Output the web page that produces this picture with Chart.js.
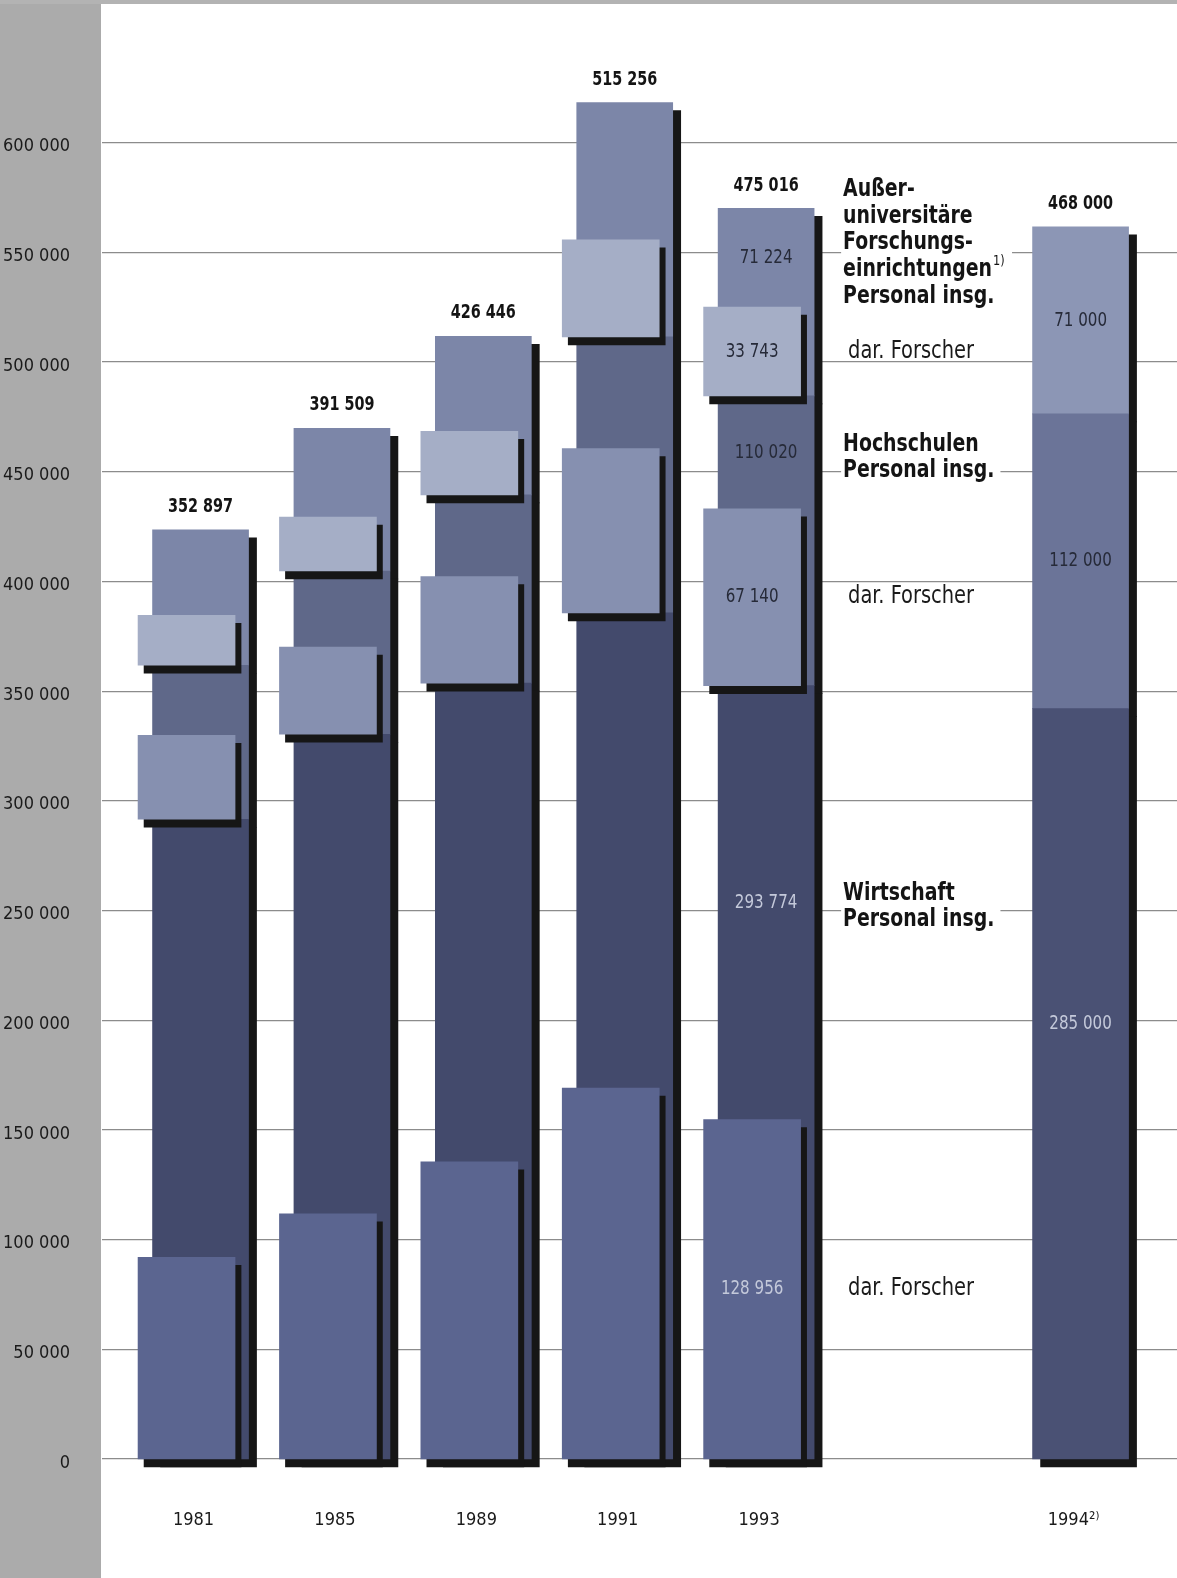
<!DOCTYPE html>
<html lang="de">
<head>
<meta charset="utf-8">
<title>FuE-Personal nach Sektoren</title>
<script src="https://cdn.jsdelivr.net/npm/chart.js@4.4.1/dist/chart.umd.min.js"></script>
<style>
  html, body { margin: 0; padding: 0; background: #fff; }
  canvas { display: block; }
</style>
</head>
<body>
<canvas id="personalChart" width="1177" height="1578"></canvas>
<script>
// R&D personnel by sector, totals and "dar. Forscher" (researchers among them)
const years = ['1981', '1985', '1989', '1991', '1993', '1994²⁾'];
const totals = [352897, 391509, 426446, 515256, 475016, 468000];
const wirtschaft = [243000, 275300, 294700, 321400, 293774, 285000];
const hochschulen = [58500, 62000, 71500, 104800, 110020, 112000];
const ausseruni = [51397, 54209, 60246, 89056, 71224, 71000];
const wirtschaftForscher = [76600, 93100, 112900, 140900, 128956, null];
const hochschulenForscher = [31900, 33100, 40500, 62400, 67140, null];
const ausseruniForscher = [19000, 20500, 24100, 36900, 33743, null];
const yTicks = [0, 50000, 100000, 150000, 200000, 250000, 300000,
                350000, 400000, 450000, 500000, 550000, 600000];
// years whose segment values are printed inside the bars
const valueYears = ['1993', '1994²⁾'];

// layout
const slots = [0, 1, 2, 3, 4, 6.224];
const X_MIN = -0.697, X_MAX = 6.906, BOX_SHIFT = 0.099;
const AXIS_MAX = 660000;
const BAR_MAX = 550000;
const FONT = "'Liberation Sans Narrow', 'DejaVu Sans Condensed', 'Liberation Sans', sans-serif";

const fmt = n => String(n).replace(/\B(?=(\d{3})+(?!\d))/g, ' ');

// text squeezed horizontally to get the narrow face of the print
function drawText(ctx, str, x, y, o) {
  const sx = o.sx || 1;
  ctx.save();
  ctx.font = `${o.weight || 'normal'} ${o.size}px ${FONT}`;
  ctx.fillStyle = o.color || '#1a1a1a';
  ctx.textAlign = o.align || 'left';
  ctx.textBaseline = 'middle';
  ctx.translate(x, y);
  ctx.scale(sx, 1);
  ctx.fillText(str, 0, 0);
  const w = ctx.measureText(str).width * sx;
  ctx.restore();
  return w;
}

const series = [wirtschaft, hochschulen, ausseruni];
const forscher = [wirtschaftForscher, hochschulenForscher, ausseruniForscher];
const valueColors = ['#c4c9da', '#262a38', '#262a38'];
const legendBlocks = [
  { lines: ['Wirtschaft', 'Personal insg.'], dy: 4 },
  { lines: ['Hochschulen', 'Personal insg.'], dy: 5 },
  { lines: ['Außer-', 'universitäre', 'Forschungs-', 'einrichtungen', 'Personal insg.'], sup: 3, dy: -15 }
];
const BOLD = { size: 25, weight: 'bold', sx: 0.84, color: '#141414' };

const decorations = {
  id: 'decorations',
  beforeDraw(chart) {
    const { ctx, width, height } = chart;
    ctx.save();
    ctx.fillStyle = '#fff';
    ctx.fillRect(0, 0, width, height);
    ctx.fillStyle = '#ababab';
    ctx.fillRect(0, 0, chart.chartArea.left - 1, height);
    ctx.fillStyle = '#b3b3b3';
    ctx.fillRect(0, 0, width, 4);
    ctx.restore();
  },
  beforeDatasetDraw(chart, args) {
    const s = chart.data.datasets[args.index].shadow;
    if (!s) return;
    const ctx = chart.ctx;
    ctx.save();
    ctx.shadowColor = '#161616';
    ctx.shadowBlur = 0;
    ctx.shadowOffsetX = s[0];
    ctx.shadowOffsetY = s[1];
  },
  afterDatasetDraw(chart, args) {
    if (chart.data.datasets[args.index].shadow) chart.ctx.restore();
  },
  afterDatasetsDraw(chart) {
    const ctx = chart.ctx;
    const main = [0, 1, 2].map(i => chart.getDatasetMeta(i).data);
    const boxes = [3, 4, 5].map(i => chart.getDatasetMeta(i).data);

    // totals above the bars
    main[2].forEach((bar, i) => {
      drawText(ctx, fmt(totals[i]), bar.x, bar.y - 23, { size: 20, weight: 'bold', align: 'center', sx: 0.8, color: '#141414' });
    });

    // values inside the segments and researcher boxes
    const labelY = [[], [], []];
    years.forEach((yr, i) => {
      for (let s = 0; s < 3; s++) {
        const bar = main[s][i];
        const box = boxes[s][i];
        const bottom = box ? box.y : bar.base;
        const frac = (s === 0 && !box) ? 0.42 : 0.5;
        labelY[s][i] = bar.y + (bottom - bar.y) * frac;
        if (!valueYears.includes(yr)) continue;
        drawText(ctx, fmt(series[s][i]), bar.x, labelY[s][i], { size: 20, align: 'center', sx: 0.84, color: valueColors[s] });
        if (box) {
          drawText(ctx, fmt(forscher[s][i]), box.x, (box.y + box.base) / 2, { size: 20, align: 'center', sx: 0.84, color: valueColors[s] });
        }
      }
    });

    // sector legend next to the 1993 column
    const ref = 4;
    const xText = main[0][ref].x + main[0][ref].width / 2 + 29;
    const lh = 26.7;
    legendBlocks.forEach((blk, s) => {
      const n = blk.lines.length;
      const y0 = labelY[s][ref] + blk.dy - (n - 1) / 2 * lh;
      ctx.save();
      ctx.font = `bold 25px ${FONT}`;
      let maxW = 0;
      blk.lines.forEach((l, k) => {
        maxW = Math.max(maxW, ctx.measureText(l).width * BOLD.sx + (k === blk.sup ? 14 : 0));
      });
      ctx.fillStyle = '#fff';
      ctx.fillRect(xText - 2, y0 - 14, maxW + 8, (n - 1) * lh + 28);
      ctx.restore();
      blk.lines.forEach((l, k) => {
        const w = drawText(ctx, l, xText, y0 + k * lh, BOLD);
        if (k === blk.sup) drawText(ctx, '1)', xText + w + 1, y0 + k * lh - 8, { size: 14, sx: 0.9, color: '#141414' });
      });
      const box = boxes[s][ref];
      drawText(ctx, 'dar. Forscher', xText + 5, (box.y + box.base) / 2, { size: 24, sx: 0.9, color: '#1a1a1a' });
    });
  }
};

const pts = (arr) => arr.map((v, i) => ({ x: slots[i], y: v }));
const boxPts = (arr, bases) => arr
  .map((v, i) => v === null ? null : { x: slots[i], y: [bases[i], bases[i] + v] })
  .filter(p => p !== null);
const zeros = years.map(() => 0);
const hsBase = wirtschaft;
const auBase = wirtschaft.map((v, i) => v + hochschulen[i]);

const shade = (c, last) => years.map((_, i) => i === years.length - 1 ? last : c);

// bars are not grouped: each one sits exactly on its x value
const mainBar = { stack: 'main', grouped: false, clip: false, xAxisID: 'x', yAxisID: 'yb', barThickness: 96, shadow: [8, 8] };
const boxBar = { grouped: false, clip: false, xAxisID: 'xb', yAxisID: 'yf', barThickness: 97, order: 0, shadow: [6, 8] };

new Chart(document.getElementById('personalChart'), {
  type: 'bar',
  data: {
    datasets: [
      { ...mainBar, label: 'Wirtschaft', data: pts(wirtschaft), backgroundColor: shade('#434a6c', '#4a5174'), order: 1 },
      { ...mainBar, label: 'Hochschulen', data: pts(hochschulen), backgroundColor: shade('#5f6889', '#6b7498'), order: 2 },
      { ...mainBar, label: 'Außeruniversitäre Forschungseinrichtungen', data: pts(ausseruni), backgroundColor: shade('#7c86a8', '#8c96b5'), order: 3 },
      { ...boxBar, label: 'Wirtschaft dar. Forscher', data: boxPts(wirtschaftForscher, zeros), backgroundColor: '#5b6590' },
      { ...boxBar, label: 'Hochschulen dar. Forscher', data: boxPts(hochschulenForscher, hsBase), backgroundColor: '#8690b0' },
      { ...boxBar, label: 'Außeruniv. dar. Forscher', data: boxPts(ausseruniForscher, auBase), backgroundColor: '#a5aec6' }
    ]
  },
  options: {
    responsive: false,
    devicePixelRatio: 1,
    animation: false,
    layout: { padding: { top: 11, left: 0, right: 0, bottom: 0 } },
    plugins: { legend: { display: false }, tooltip: { enabled: false } },
    scales: {
      x: {
        type: 'linear', min: X_MIN, max: X_MAX, offset: false,
        grid: { display: false }, border: { display: false },
        afterBuildTicks: axis => { axis.ticks = slots.map(v => ({ value: v })); },
        afterFit: axis => { axis.height = 119; axis.paddingLeft = 0; axis.paddingRight = 0; },
        ticks: {
          autoSkip: false, maxRotation: 0, padding: 43, labelOffset: -7,
          color: '#1a1a1a', font: { family: FONT, size: 18 },
          callback: (v, i) => years[i]
        }
      },
      xb: { type: 'linear', display: false, offset: false, min: X_MIN + BOX_SHIFT, max: X_MAX + BOX_SHIFT },
      y: {
        type: 'linear', position: 'left', min: 0, max: AXIS_MAX,
        border: { display: false },
        grid: { color: '#8c8c8c', lineWidth: 1.2, drawTicks: false },
        afterBuildTicks: axis => { axis.ticks = yTicks.map(v => ({ value: v })); },
        afterFit: axis => { axis.width = 102; axis.paddingTop = 0; axis.paddingBottom = 0; },
        ticks: {
          padding: 32, labelOffset: 4, color: '#1a1a1a',
          font: { family: FONT, size: 18 },
          callback: v => fmt(v)
        }
      },
      yb: { type: 'linear', display: false, stacked: true, min: 0, max: BAR_MAX },
      yf: { type: 'linear', display: false, stacked: false, min: 0, max: BAR_MAX }
    }
  },
  plugins: [decorations]
});
</script>
</body>
</html>
